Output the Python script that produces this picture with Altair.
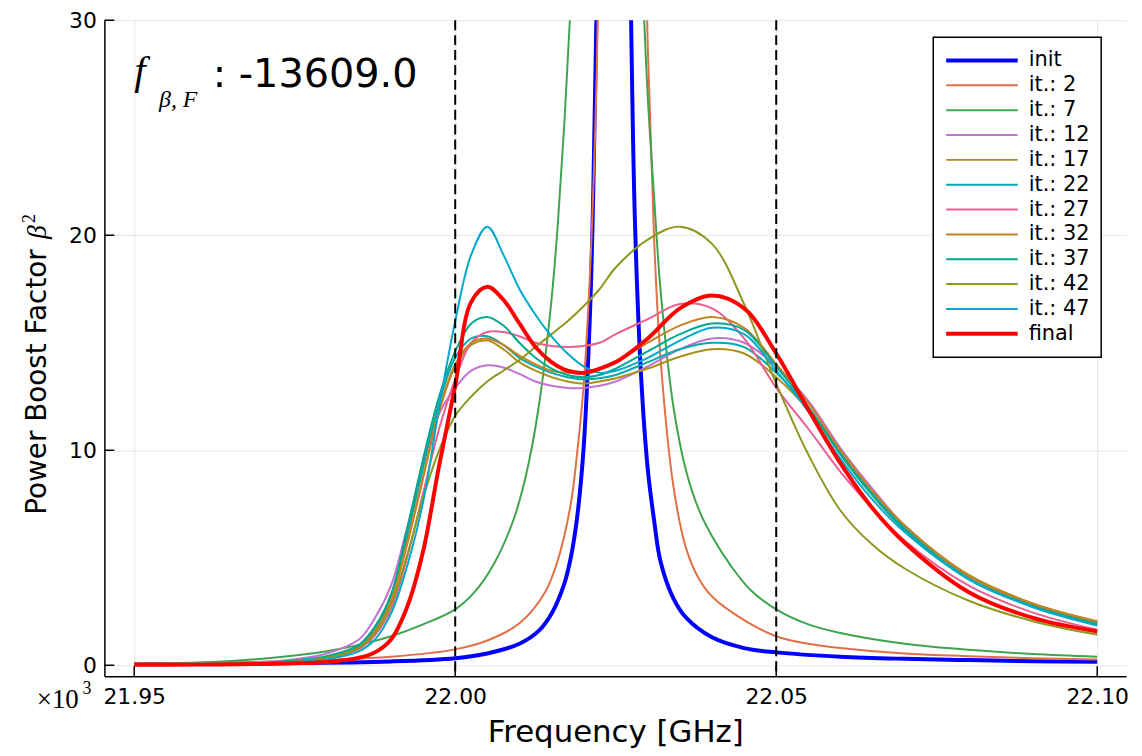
import altair as alt
import pandas as pd

# ---------------- data ----------------
SERIES = ["init", "it.: 2", "it.: 7", "it.: 12", "it.: 17", "it.: 22", "it.: 27",
          "it.: 32", "it.: 37", "it.: 42", "it.: 47", "final"]
COLORS = ["#0000FF", "#E36F47", "#3EA44E", "#C371D2", "#AC8E18", "#00AAAE", "#ED5E93",
          "#C68225", "#00A98D", "#8E971E", "#00A9CB", "#FF0000"]
WIDTHS = [4, 2, 2, 2, 2, 2, 2, 2, 2, 2, 2, 4]

# narrow curves (own frequency grids)
INIT_F = [21.95, 21.97, 21.99, 22.00, 22.005, 22.01, 22.013, 22.015, 22.017, 22.018,
          22.019, 22.020, 22.021, 22.0215, 22.022, 22.0225, 22.0247, 22.027, 22.0274,
          22.028, 22.029, 22.030, 22.031, 22.032, 22.034, 22.036, 22.04, 22.045, 22.05,
          22.06, 22.07, 22.08, 22.09, 22.10]
INIT_B = [0.05, 0.09, 0.18, 0.33, 0.55, 1.0, 1.6, 2.4, 3.8, 5.0, 6.9, 10.1, 16.4, 21.9,
          30.4, 40, 80, 40, 30, 20.6, 13.2, 9.1, 6.7, 4.8, 3.1, 2.2, 1.3, 0.8, 0.6, 0.4,
          0.3, 0.24, 0.19, 0.16]

IT2_F = [21.95, 21.97, 21.99, 22.00, 22.005, 22.01, 22.014, 22.016, 22.018, 22.019, 22.020,
         22.021, 22.022, 22.023, 22.0265, 22.029, 22.030, 22.031, 22.032, 22.034, 22.036,
         22.038, 22.04, 22.045, 22.05, 22.055, 22.06, 22.07, 22.08, 22.09, 22.10]
IT2_B = [0.09, 0.16, 0.4, 0.74, 1.15, 1.95, 3.4, 4.9, 7.5, 9.9, 13.0, 18.3, 27, 44, 120,
         46, 28.7, 19.7, 14.2, 8.3, 5.4, 4.0, 3.2, 2.1, 1.35, 1.0, 0.8, 0.55, 0.42, 0.33,
         0.27]

IT7_F = [21.95, 21.96, 21.97, 21.975, 21.98, 21.985, 21.99, 21.995, 22.00, 22.003, 22.006,
         22.009, 22.011, 22.013, 22.015, 22.016, 22.017, 22.018, 22.019, 22.0245, 22.029,
         22.030, 22.031, 22.032, 22.034, 22.036, 22.038, 22.04, 22.043, 22.046, 22.05,
         22.055, 22.06, 22.07, 22.08, 22.09, 22.10]
IT7_B = [0.05, 0.12, 0.3, 0.45, 0.65, 0.95, 1.35, 1.9, 2.6, 3.4, 4.7, 6.7, 8.8, 12.0, 17.0,
         20.6, 25.2, 30.8, 38, 65, 33, 26.4, 21.7, 17.4, 12.0, 9.0, 7.2, 6.0, 4.6, 3.5,
         2.6, 1.9, 1.5, 1.0, 0.72, 0.52, 0.4]

# broad curves share one frequency grid
FREQ = [21.95, 21.96, 21.97, 21.975, 21.98, 21.985, 21.9875, 21.99, 21.9925, 21.995,
        21.9975, 22.00, 22.0025, 22.005, 22.0075, 22.01, 22.0125, 22.015, 22.0175, 22.02,
        22.0225, 22.025, 22.03, 22.035, 22.04, 22.045, 22.05, 22.055, 22.06, 22.065, 22.07,
        22.08, 22.09, 22.10]
IT12 = [0.02, 0.06, 0.15, 0.28, 0.55, 1.2, 2.2, 3.7, 6.4, 9.4, 11.7, 12.9, 13.7, 13.95,
        13.85, 13.55, 13.2, 13.0, 12.9, 12.9, 13.0, 13.2, 13.9, 14.7, 15.2, 15.0, 13.9,
        12.3, 10.1, 8.2, 6.5, 4.15, 2.85, 1.98]
IT17 = [0.02, 0.04, 0.1, 0.18, 0.36, 0.82, 1.6, 3.0, 5.6, 8.7, 11.8, 13.9, 14.9, 15.1,
        14.7, 14.1, 13.7, 13.4, 13.2, 13.1, 13.2, 13.35, 13.8, 14.35, 14.7, 14.5, 13.4,
        11.9, 10.0, 8.1, 6.5, 4.2, 2.88, 2.05]
IT22 = [0.02, 0.05, 0.11, 0.2, 0.4, 0.9, 1.7, 3.2, 6.0, 9.2, 12.2, 14.3, 15.2, 15.3, 14.9,
        14.3, 13.9, 13.6, 13.4, 13.3, 13.35, 13.5, 14.1, 14.7, 15.0, 14.8, 13.6, 12.0, 9.9,
        8.0, 6.4, 4.1, 2.8, 1.97]
IT27 = [0.02, 0.04, 0.09, 0.16, 0.32, 0.75, 1.4, 2.6, 5.0, 8.0, 11.0, 13.3, 15.0, 15.5,
        15.5, 15.3, 15.0, 14.85, 14.8, 14.85, 15.0, 15.4, 16.1, 16.8, 16.6, 15.2, 12.9,
        11.0, 9.0, 7.3, 5.8, 3.7, 2.45, 1.65]
IT32 = [0.02, 0.04, 0.1, 0.18, 0.36, 0.82, 1.6, 3.0, 5.7, 8.8, 11.9, 14.0, 15.0, 15.2,
        14.9, 14.4, 14.0, 13.7, 13.6, 13.6, 13.8, 14.1, 15.0, 15.8, 16.2, 15.7, 14.0, 12.2,
        10.0, 8.1, 6.5, 4.15, 2.85, 2.02]
IT37 = [0.02, 0.05, 0.12, 0.22, 0.42, 0.95, 1.8, 3.3, 6.3, 9.6, 12.5, 14.6, 15.9, 16.2,
        15.8, 15.0, 14.3, 13.8, 13.5, 13.4, 13.5, 13.8, 14.6, 15.4, 15.9, 15.6, 13.9, 12.0,
        9.8, 7.9, 6.3, 4.0, 2.75, 1.9]
IT42 = [0.02, 0.04, 0.1, 0.18, 0.35, 0.8, 1.5, 2.8, 5.1, 7.8, 10.0, 11.6, 12.5, 13.2, 13.7,
        14.2, 14.8, 15.4, 16.0, 16.7, 17.5, 18.5, 19.8, 20.4, 19.6, 16.8, 13.1, 9.8, 7.2,
        5.6, 4.5, 3.0, 2.05, 1.42]
IT47 = [0.02, 0.04, 0.08, 0.14, 0.28, 0.65, 1.2, 2.4, 4.6, 7.6, 12.0, 16.0, 19.1, 20.4,
        19.1, 17.5, 16.3, 15.3, 14.5, 13.9, 13.6, 13.7, 14.3, 15.1, 15.7, 15.4, 13.7, 11.8,
        9.6, 7.7, 6.2, 4.0, 2.7, 1.85]
FINAL = [0.02, 0.03, 0.06, 0.09, 0.15, 0.35, 0.6, 1.2, 2.7, 5.3, 9.3, 13.0, 16.9, 17.6,
         17.0, 15.9, 14.8, 14.1, 13.7, 13.6, 13.8, 14.1, 15.2, 16.6, 17.2, 16.6, 14.5, 11.9,
         9.4, 7.3, 5.7, 3.4, 2.2, 1.57]

VLINES = [22.00, 22.05]
XTICKS = [21.95, 22.00, 22.05, 22.10]
YTICKS = [0, 10, 20, 30]
FBF_VALUE = ": -13609.0"

# ---------------- build table ----------------
curves = [
    ("init", INIT_F, INIT_B), ("it.: 2", IT2_F, IT2_B), ("it.: 7", IT7_F, IT7_B),
    ("it.: 12", FREQ, IT12), ("it.: 17", FREQ, IT17), ("it.: 22", FREQ, IT22),
    ("it.: 27", FREQ, IT27), ("it.: 32", FREQ, IT32), ("it.: 37", FREQ, IT37),
    ("it.: 42", FREQ, IT42), ("it.: 47", FREQ, IT47), ("final", FREQ, FINAL),
]
rows = []
for name, fs, bs in curves:
    for f, b in zip(fs, bs):
        rows.append({"series": name, "f": f, "b": b})
df = pd.DataFrame(rows)

W, H = 1028, 660
FONT = "DejaVu Sans"
SERIF = "Liberation Serif"

xscale = alt.Scale(domain=[21.94536, 22.10449], nice=False, zero=False)
yscale = alt.Scale(domain=[-0.507, 30], nice=False, zero=False)

xaxis = alt.Axis(values=XTICKS, format=".2f", title="Frequency [GHz]", ticks=False,
                 tickSize=0, labelPadding=10, labelFontSize=22, titleFontSize=31,
                 titleFontWeight="normal", titleBaseline="alphabetic", titleY=66,
                 labelFlush=False)
yaxis = alt.Axis(values=YTICKS, format="d", title="Power Boost Factor", ticks=False,
                 tickSize=0, labelPadding=8, labelFontSize=22, titleFontSize=28,
                 titleFontWeight="normal", titleAngle=270, titleAlign="left",
                 titleBaseline="alphabetic", titleX=-59, titleY=497, labelFlush=False)

def X(field):
    return alt.X(f"{field}:Q", scale=xscale, axis=xaxis)

def Y(field):
    return alt.Y(f"{field}:Q", scale=yscale, axis=yaxis)

leg = alt.Legend(title=None, orient="none", legendX=834, legendY=17, symbolType="stroke",
                 symbolSize=5184, clipHeight=25, rowPadding=0, padding=11,
                 labelFontSize=21, labelFont=FONT, labelColor="black", labelOffset=9,
                 strokeColor="black", fillColor="white", labelLimit=300)

lines = alt.Chart(df).mark_line(clip=True, interpolate="catmull-rom").encode(
    x=X("f"), y=Y("b"),
    color=alt.Color("series:N", scale=alt.Scale(domain=SERIES, range=COLORS), legend=leg),
    strokeWidth=alt.StrokeWidth("series:N",
                                scale=alt.Scale(type="ordinal", domain=SERIES, range=WIDTHS),
                                legend=leg),
)

vl = alt.Chart(pd.DataFrame({"f": VLINES})).mark_rule(
    color="black", strokeWidth=2, strokeDash=[10, 5]).encode(
    x=X("f"), y=alt.value(0), y2=alt.value(H))

xt = alt.Chart(pd.DataFrame({"f": XTICKS})).mark_rule(color="black", strokeWidth=1.5).encode(
    x=X("f"), y=alt.value(H), y2=alt.value(H - 10))
yt = alt.Chart(pd.DataFrame({"b": YTICKS})).mark_rule(color="black", strokeWidth=1.5).encode(
    y=Y("b"), x=alt.value(0), x2=alt.value(10))

one = pd.DataFrame({"t": [0]})
def label(text, x, y, size, font, style="normal", angle=0):
    return alt.Chart(one).mark_text(text=text, align="left", baseline="alphabetic",
                                    fontSize=size, font=font, fontStyle=style, angle=angle,
                                    color="black").encode(x=alt.value(x), y=alt.value(y))

ann_f = label("f", 30, 64, 41, SERIF, "italic")
ann_sub = label("β, F", 55, 87, 24, SERIF, "italic")
ann_val = label(FBF_VALUE, 109, 67, 40, FONT)
times = label("×10", -68, 692, 27, SERIF)
times3 = label("3", -22, 678, 18, SERIF)
beta = label("β", -59, 220, 28, SERIF, "italic", 270)
beta2 = label("2", -70, 204, 18, SERIF, "normal", 270)

chart = alt.layer(lines, vl, xt, yt, ann_f, ann_sub, ann_val, times, times3, beta, beta2
).properties(
    width=W, height=H,
    autosize=alt.AutoSizeParams(type="none"),
    padding={"left": 97, "top": 10, "right": 8, "bottom": 78},
    background="white",
).configure_view(stroke=None).configure_axis(
    domainColor="black", domainWidth=1.5, gridColor="black", gridOpacity=0.1, gridWidth=1,
    labelFont=FONT, titleFont=FONT, labelColor="black", titleColor="black",
)

try:
    chart.configure_legend(strokeWidth=1.5).save(
        "out.html", embed_options={"renderer": "svg", "actions": False})
except Exception:
    chart.save("out.html", embed_options={"renderer": "svg", "actions": False})
